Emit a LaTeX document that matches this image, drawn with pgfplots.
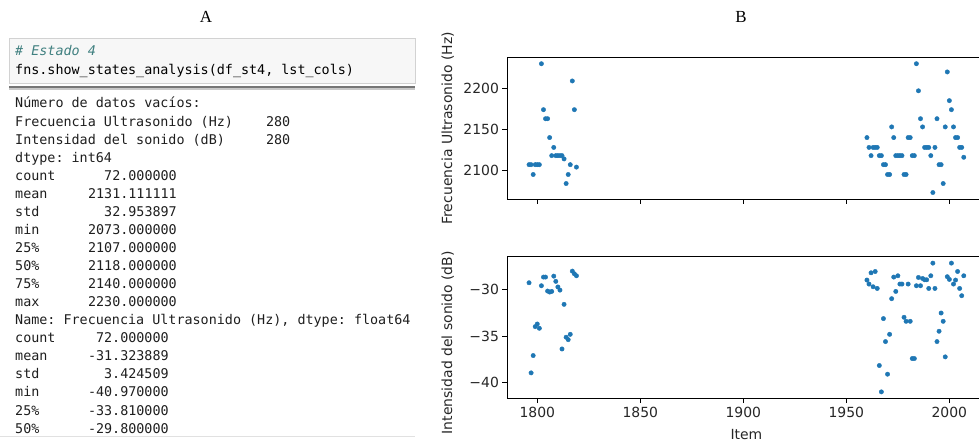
\documentclass[border=0pt]{standalone}
\usepackage{fontspec}
\usepackage{pgfplots}
\usepackage{pgfplotstable}
\pgfplotsset{compat=1.18}
\setmainfont{DejaVu Sans}
\newfontfamily\monofont{DejaVu Sans Mono}
\newfontfamily\serifA{Liberation Serif}
\definecolor{mplblue}{RGB}{31,119,180}
\definecolor{cellbg}{RGB}{247,247,247}
\definecolor{cellborder}{RGB}{210,210,210}
\definecolor{commentc}{RGB}{64,128,128}
\definecolor{outtxt}{RGB}{30,30,30}
\newcommand{\mf}{\monofont\fontsize{13.45}{16}\selectfont}
\newcommand{\lab}{\fontsize{14}{16}\selectfont}
\frenchspacing

\pgfplotstableread{
x f d
1796 2107 -29.25
1797 2107 -38.93
1798 2095 -37.07
1799 2107 -33.96
1800 2107 -33.68
1801 2107 -34.14
1802 2230 -29.57
1803 2174 -28.64
1804 2163 -28.64
1805 2163 -30.14
1806 2140 -30.25
1807 2118 -30.18
1808 2128 -28.54
1809 2118 -29.10
1810 2118 -29.70
1811 2118 -30.04
1812 2118 -36.36
1813 2114 -31.57
1814 2084 -35.10
1815 2095 -35.36
1816 2107 -34.79
1817 2209 -28.00
1818 2174 -28.29
1819 2104 -28.50
1960 2140 -28.96
1961 2128 -29.39
1962 2118 -28.18
1963 2128 -29.68
1964 2128 -28.04
1965 2128 -29.86
1966 2118 -38.14
1967 2118 -40.97
1968 2107 -33.10
1969 2107 -35.57
1970 2095 -39.07
1971 2095 -34.79
1972 2153 -30.96
1973 2140 -28.64
1974 2118 -30.18
1975 2118 -28.50
1976 2118 -29.39
1977 2118 -29.39
1978 2095 -32.96
1979 2095 -33.39
1980 2140 -29.39
1981 2140 -33.39
1982 2118 -37.39
1983 2118 -37.39
1984 2230 -29.57
1985 2197 -28.68
1986 2163 -29.57
1987 2153 -28.79
1988 2128 -28.93
1989 2128 -28.93
1990 2128 -29.86
1991 2118 -28.50
1992 2073 -27.14
1993 2128 -29.86
1994 2163 -35.57
1995 2107 -34.46
1996 2107 -32.50
1997 2084 -33.39
1998 2153 -37.21
1999 2220 -28.60
2000 2185 -28.89
2001 2174 -27.14
2002 2153 -29.39
2003 2140 -28.96
2004 2140 -28.04
2005 2128 -29.86
2006 2128 -30.64
2007 2116 -28.50
}\datatab

\pgfplotsset{mplstyle/.style={
  scale only axis, width=478.2bp,
  xmin=1785.45, xmax=2017.55,
  axis line style={line width=0.8bp, black},
  tick align=outside, tick pos=left,
  major tick length=4.9bp,
  every tick/.style={black, line width=0.8bp},
  tick label style={font=\lab, text=black!85},
  xtick={1800,1850,1900,1950,2000},
}}

\newcommand{\lrow}[2]{\node[anchor=base west, inner sep=0pt, font=\mf, text=outtxt] at (15,{333-18.06*#1}) {#2};}
\newcommand{\vrow}[3]{\node[anchor=base east, inner sep=0pt, font=\mf, text=outtxt] at ({15+8.1*#2},{333-18.06*#1}) {#3};}

\begin{document}
\begin{tikzpicture}[x=1bp,y=1bp]
% ---------------- panel A ----------------
\node[anchor=base, inner sep=0pt, font=\serifA\fontsize{17}{20}\selectfont] at (206,418) {A};
\filldraw[fill=cellbg, draw=cellborder, line width=0.8bp] (9,403) rectangle (415,358);
\draw[line width=2.2bp, color={rgb,255:red,118;green,118;blue,118}] (9,354) -- (415,354);
\draw[line width=1.4bp, color={rgb,255:red,200;green,200;blue,200}] (9,352) -- (415,352);
\node[anchor=base west, inner sep=0pt, font=\mf\itshape, text=commentc] at (15,385) {\# Estado 4};
\node[anchor=base west, inner sep=0pt, font=\mf, text=black] at (15,366) {fns.show\_states\_analysis(df\_st4, lst\_cols)};
\lrow{0}{Número de datos vacíos:}
\lrow{1}{Frecuencia Ultrasonido (Hz)}\vrow{1}{34}{280}
\lrow{2}{Intensidad del sonido (dB)}\vrow{2}{34}{280}
\lrow{3}{dtype: int64}
\lrow{4}{count}\vrow{4}{20}{72.000000}
\lrow{5}{mean}\vrow{5}{20}{2131.111111}
\lrow{6}{std}\vrow{6}{20}{32.953897}
\lrow{7}{min}\vrow{7}{20}{2073.000000}
\lrow{8}{25\%}\vrow{8}{20}{2107.000000}
\lrow{9}{50\%}\vrow{9}{20}{2118.000000}
\lrow{10}{75\%}\vrow{10}{20}{2140.000000}
\lrow{11}{max}\vrow{11}{20}{2230.000000}
\lrow{12}{Name: Frecuencia Ultrasonido (Hz), dtype: float64}
\lrow{13}{count}\vrow{13}{19}{72.000000}
\lrow{14}{mean}\vrow{14}{19}{-31.323889}
\lrow{15}{std}\vrow{15}{19}{3.424509}
\lrow{16}{min}\vrow{16}{19}{-40.970000}
\lrow{17}{25\%}\vrow{17}{19}{-33.810000}
\lrow{18}{50\%}\vrow{18}{19}{-29.800000}
\draw[line width=1bp, color={rgb,255:red,225;green,225;blue,225}] (0,4) -- (415,4);
% ---------------- panel B ----------------
\node[anchor=base, inner sep=0pt, font=\serifA\fontsize{17}{20}\selectfont] at (741,418) {B};
\begin{axis}[mplstyle, at={(507.3bp,242bp)}, anchor=south west, height=141.7bp,
  ymin=2065.15, ymax=2237.85, ytick={2100,2150,2200}, yticklabels={2100,2150,2200},
  xticklabels={}]
\addplot[only marks, mark=*, mark size=2.2bp, mplblue, mark options={draw=none, fill=mplblue}] table[x=x, y=f] {\datatab};
\end{axis}
\begin{axis}[mplstyle, at={(507.3bp,42.7bp)}, anchor=south west, height=141.6bp,
  ymin=-41.66, ymax=-26.45, ytick={-40,-35,-30}, yticklabels={−40,−35,−30},
  xticklabels={1800,1850,1900,1950,2000}]
\addplot[only marks, mark=*, mark size=2.2bp, mplblue, mark options={draw=none, fill=mplblue}] table[x=x, y=d] {\datatab};
\end{axis}
\node[rotate=90, anchor=base, inner sep=0pt, font=\lab, text=black!85] at (452,312.7) {Frecuencia Ultrasonido (Hz)};
\node[rotate=90, anchor=base, inner sep=0pt, font=\lab, text=black!85] at (452,98.3) {Intensidad del sonido (dB)};
\node[anchor=base, inner sep=0pt, font=\lab, text=black!85] at (746.4,1.7) {Item};
\pgfresetboundingbox
\useasboundingbox (0,0) rectangle (979,441);
\end{tikzpicture}
\end{document}
